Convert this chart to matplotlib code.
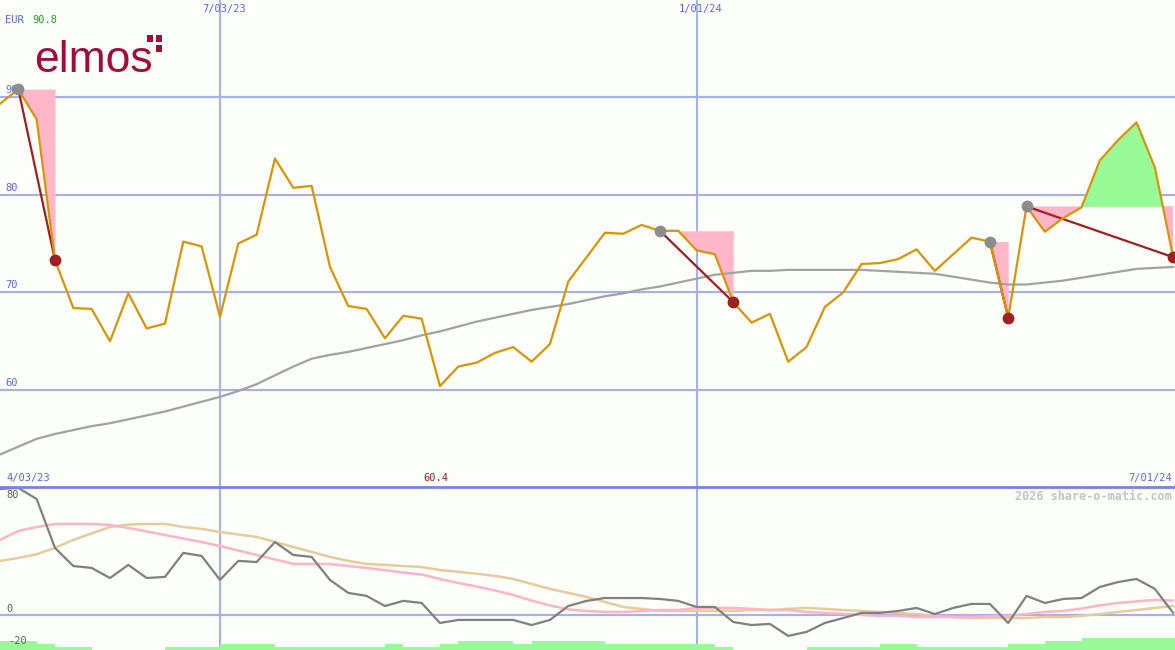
import matplotlib
matplotlib.use("Agg")
import matplotlib.pyplot as plt
import matplotlib.dates as mdates
from matplotlib.patches import Rectangle
import numpy as np
import pandas as pd

# weekly closes, EUR
dates = pd.date_range("2023-04-10", periods=65, freq="7D")
price = [89.3, 90.8, 87.7, 73.3, 68.4, 68.3, 65.0, 69.9, 66.3, 66.8,
         75.2, 74.7, 67.5, 75.0, 75.9, 83.7, 80.7, 80.9, 72.6, 68.6,
         68.3, 65.3, 67.6, 67.3, 60.4, 62.4, 62.8, 63.8, 64.4, 62.9,
         64.7, 71.1, 73.6, 76.1, 76.0, 76.9, 76.3, 76.3, 74.3, 73.9,
         69.0, 66.9, 67.8, 62.9, 64.4, 68.5, 70.0, 72.9, 73.0, 73.4,
         74.4, 72.2, 73.9, 75.6, 75.2, 67.4, 78.8, 76.2, 77.6, 78.7,
         83.5, 85.6, 87.4, 82.8, 73.6]
avg = [53.4, 54.2, 55.0, 55.5, 55.9, 56.3, 56.6, 57.0, 57.4, 57.8,
       58.3, 58.8, 59.3, 59.9, 60.6, 61.5, 62.4, 63.2, 63.6, 63.9,
       64.3, 64.7, 65.1, 65.6, 66.0, 66.5, 67.0, 67.4, 67.8, 68.2,
       68.5, 68.8, 69.2, 69.6, 69.9, 70.3, 70.6, 71.0, 71.4, 71.8,
       72.0, 72.2, 72.2, 72.3, 72.3, 72.3, 72.3, 72.3, 72.2, 72.1,
       72.0, 71.9, 71.6, 71.3, 71.0, 70.8, 70.8, 71.0, 71.2, 71.5,
       71.8, 72.1, 72.4, 72.5, 72.6]
# (peak index, trough index) of the marked drops
drops = [(1, 3), (36, 40), (54, 55), (56, 64)]

# lower panel
osc = [78.8, 79.4, 72.5, 41.9, 30.6, 29.4, 23.1, 31.3, 23.1, 23.8,
       38.8, 36.9, 21.9, 33.8, 33.1, 45.6, 37.5, 36.3, 21.9, 13.8,
       11.9, 5.6, 8.8, 7.5, -5.0, -3.1, -3.1, -3.1, -3.1, -6.3,
       -3.1, 5.6, 8.8, 10.6, 10.6, 10.6, 10.0, 8.8, 5.0, 5.0,
       -4.4, -6.3, -5.6, -13.1, -10.6, -5.0, -1.9, 1.3, 1.3, 2.5,
       4.4, 0.6, 4.4, 6.9, 6.9, -5.0, 11.9, 7.5, 10.0, 10.6,
       17.5, 20.6, 22.5, 16.3, 1.3]
osc_fast = [46.9, 52.5, 55.0, 56.9, 56.9, 56.9, 56.3, 54.4, 52.2, 50.0,
            47.8, 45.6, 43.1, 40.3, 37.5, 34.7, 31.9, 31.9, 31.9, 30.6,
            29.4, 28.0, 26.5, 25.3, 22.5, 20.0, 17.8, 15.3, 12.5, 9.0,
            6.0, 3.5, 2.5, 1.9, 1.9, 2.5, 3.1, 3.1, 4.4, 4.4,
            4.4, 3.8, 3.1, 3.1, 1.9, 1.3, 0.6, 0.0, -0.6, -0.6,
            -1.3, -1.3, -1.3, -1.3, -0.9, -0.6, 0.6, 1.9, 2.5, 4.0,
            6.0, 7.5, 8.5, 9.4, 9.0]
osc_slow = [33.8, 35.6, 38.0, 42.0, 46.9, 51.0, 55.0, 56.5, 56.9, 56.9,
            55.0, 53.8, 51.9, 50.3, 48.8, 45.6, 42.5, 39.4, 36.3, 33.8,
            31.9, 31.3, 30.6, 30.0, 28.1, 27.0, 25.8, 24.4, 22.5, 19.4,
            16.3, 13.8, 11.3, 8.1, 5.0, 3.8, 2.5, 2.5, 2.5, 2.5,
            2.5, 3.1, 3.1, 3.8, 4.4, 3.8, 3.1, 2.5, 1.9, 1.3,
            0.6, -0.6, -1.3, -1.9, -1.9, -1.9, -1.9, -1.3, -1.3, -0.6,
            0.6, 1.9, 3.1, 4.4, 5.6]
volume = [5.6, 5.6, 3.8, 1.9, 1.9, 0, 0, 0, 0, 1.9,
          1.9, 1.9, 3.8, 3.8, 3.8, 1.9, 1.9, 1.9, 1.9, 1.9,
          1.9, 3.8, 1.9, 1.9, 3.8, 5.6, 5.6, 5.6, 3.8, 5.6,
          5.6, 5.6, 5.6, 3.8, 3.8, 3.8, 3.8, 3.8, 3.8, 1.9,
          0, 0, 0, 0, 1.9, 1.9, 1.9, 1.9, 3.8, 3.8,
          1.9, 1.9, 1.9, 1.9, 1.9, 3.8, 3.8, 5.6, 5.6, 7.5,
          7.5, 7.5, 7.5, 7.5, 7.5]

grid_dates = [pd.Timestamp("2023-07-03"), pd.Timestamp("2024-01-01")]
grid_labels = ["7/03/23", "1/01/24"]

bg = "#fcfefa"
blue_txt = "#5a66f0"
grid_c = "#a4b0f2"
mono = "DejaVu Sans Mono"

price = np.array(price)
x0 = mdates.date2num(dates[0])
xlim = (x0, x0 + 448.7)

fig = plt.figure(figsize=(11.75, 6.5), dpi=100)
fig.patch.set_facecolor(bg)
ax = fig.add_axes([0, 163 / 650, 1, 487 / 650])
ax2 = fig.add_axes([0, 0, 1, 163 / 650])

for a in (ax, ax2):
    a.set_facecolor(bg)
    a.set_xlim(*xlim)
    for s in a.spines.values():
        s.set_visible(False)
    a.tick_params(length=0, labelbottom=False, labelleft=False)
    a.set_xticks(grid_dates)
    a.set_axisbelow(True)
    a.grid(color=grid_c, lw=1.5)

# main panel
ax.set_ylim(50.07, 99.93)
ax.set_yticks([60, 70, 80, 90])

for p, t in drops:
    xs = dates[p:t + 1]
    ys = price[p:t + 1]
    lvl = price[p]
    ax.fill_between(xs, lvl, ys, where=ys <= lvl, interpolate=True,
                    color="#ffb6c8", lw=0, zorder=1)
    ax.fill_between(xs, lvl, ys, where=ys > lvl, interpolate=True,
                    color="#98fb98", lw=0, zorder=1)

ax.plot(dates, avg, color="#a2a2a2", lw=1.6, zorder=2)
for p, t in drops:
    ax.plot([dates[p], dates[t]], [price[p], price[t]], color="#a01e1e",
            lw=1.6, zorder=3)
ax.plot(dates, price, color="#d99404", lw=1.6, zorder=4)
pk = [p for p, t in drops]
tr = [t for p, t in drops]
ax.plot(dates[pk], price[pk], "o", color="#8c8c8c", ms=8.5, mec="none", zorder=5)
ax.plot(dates[tr], price[tr], "o", color="#a01e1e", ms=8.5, mec="none", zorder=5)

for v in [60, 70, 80, 90]:
    ax.annotate(str(v), (0, v), xycoords=("axes fraction", "data"),
                xytext=(5, 2), textcoords="offset pixels", va="bottom",
                ha="left", color=blue_txt, fontsize=7.5, family=mono, zorder=0.5)
for d, lab in zip(grid_dates, grid_labels):
    ax.annotate(lab, (d, 1), xycoords=("data", "axes fraction"),
                xytext=(4, -4), textcoords="offset pixels", va="top",
                ha="center", color=blue_txt, fontsize=7.5, family=mono)

imin = int(np.argmin(price))
ax.annotate("4/03/23", (0, 0), xycoords="axes fraction", xytext=(6, 4),
            textcoords="offset pixels", va="bottom", ha="left",
            color=blue_txt, fontsize=7.5, family=mono)
ax.annotate("7/01/24", (1, 0), xycoords="axes fraction", xytext=(-3, 4),
            textcoords="offset pixels", va="bottom", ha="right",
            color=blue_txt, fontsize=7.5, family=mono)
ax.annotate(f"{price[imin]:.1f}", (dates[imin], 0),
            xycoords=("data", "axes fraction"), xytext=(-4, 4),
            textcoords="offset pixels", va="bottom", ha="center",
            color="#a01e1e", fontsize=7.5, family=mono)

# lower panel
ax2.set_ylim(-21.9, 80)
ax2.set_yticks([0])
ax2.bar(dates, volume, width=7, align="edge", bottom=-21.9,
        color="#98fb98", lw=0, zorder=1)
ax2.plot(dates, osc_slow, color="#e6cc9c", lw=1.8, zorder=2)
ax2.plot(dates, osc_fast, color="#ffb4c8", lw=1.8, zorder=3)
ax2.plot(dates, osc, color="#808080", lw=1.6, zorder=4)
ax2.axhline(80, color="#7482ea", lw=2, clip_on=False, zorder=6)

ax2.annotate("80", (0, 80), xycoords=("axes fraction", "data"), xytext=(6, -3),
             textcoords="offset pixels", va="top", ha="left",
             color="#606060", fontsize=7.5, family=mono)
ax2.annotate("0", (0, 0), xycoords=("axes fraction", "data"), xytext=(6, 1),
             textcoords="offset pixels", va="bottom", ha="left",
             color="#606060", fontsize=7.5, family=mono)
ax2.annotate("-20", (0, -16.3), xycoords=("axes fraction", "data"), xytext=(8, 0),
             textcoords="offset pixels", va="center", ha="left",
             color="#606060", fontsize=7.5, family=mono)

fig.text(1 - 3 / 1175, 1 - 496 / 650, "2026 share-o-matic.com", ha="right",
         va="center", color="#c4c4c4", fontsize=8.5, family=mono,
         weight="bold")

# header
fig.text(5 / 1175, 1 - 20 / 650, "EUR", ha="left", va="center",
         color=blue_txt, fontsize=7.5, family=mono)
fig.text(32 / 1175, 1 - 20 / 650, f"{price.max():.1f}", ha="left",
         va="center", color="#22a022", fontsize=7.5, family=mono)

logo = "#a50a3c"
fig.text(34 / 1175, 1 - 72 / 650, "elmos", ha="left", va="baseline",
         color=logo, fontsize=32, family="Liberation Sans")
for sx, sy in [(147, 35), (156, 35), (156, 45)]:
    fig.add_artist(Rectangle((sx / 1175, 1 - (sy + 7) / 650), 6 / 1175,
                             7 / 650, transform=fig.transFigure,
                             color=logo, lw=0))

fig.savefig("out.png", dpi=100, facecolor=bg)
